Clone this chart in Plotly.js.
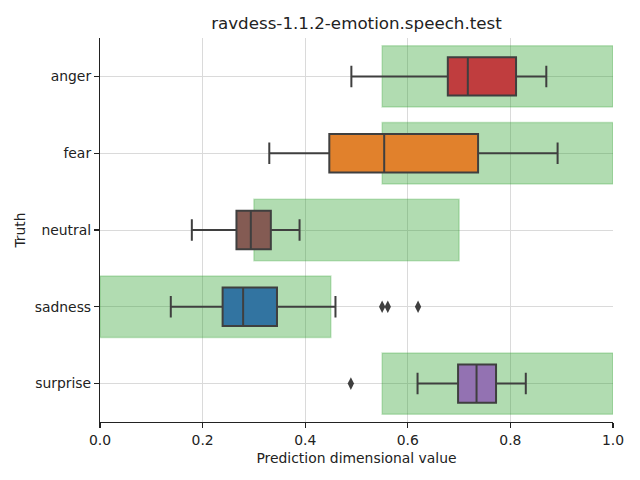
<!DOCTYPE html>
<html>
<head>
<meta charset="utf-8">
<script src="https://cdn.plot.ly/plotly-3.0.1.min.js"></script>
<style>html,body{margin:0;padding:0;background:#fff;}#chart{width:640px;height:480px;}</style>
</head>
<body>
<div id="chart"></div>
<script>
// Categories (top to bottom)
const categories = ["anger", "fear", "neutral", "sadness", "surprise"];
// Box statistics
const lowerWhisker = [0.490, 0.330, 0.179, 0.138, 0.619];
const q1Values     = [0.678, 0.447, 0.266, 0.239, 0.698];
const medianValues = [0.717, 0.554, 0.294, 0.279, 0.734];
const q3Values     = [0.811, 0.737, 0.333, 0.345, 0.772];
const upperWhisker = [0.870, 0.892, 0.389, 0.459, 0.830];
const boxColors    = ["#c03d3e", "#e1812c", "#845b53", "#3274a1", "#9372b2"];
// Outliers
const outlierCats  = ["sadness", "sadness", "sadness", "surprise"];
const outlierVals  = [0.550, 0.561, 0.620, 0.489];
// Expected ranges (green bands)
const rangeLow  = [0.55, 0.55, 0.30, 0.00, 0.55];
const rangeHigh = [1.00, 1.00, 0.70, 0.45, 1.00];
const xTicks = [0, 0.2, 0.4, 0.6, 0.8, 1.0];

const traces = [];
// green bands as horizontal bars
traces.push({
  type: "bar",
  orientation: "h",
  y: categories,
  base: rangeLow,
  x: rangeHigh.map((h, i) => h - rangeLow[i]),
  width: 0.8,
  marker: {color: "rgba(44,160,44,0.37)", line: {color: "rgba(44,160,44,0.25)", width: 1.5}},
  hoverinfo: "skip",
  showlegend: false
});
categories.forEach((c, i) => {
  traces.push({
    type: "box",
    orientation: "h",
    y: [c],
    q1: [q1Values[i]],
    median: [medianValues[i]],
    q3: [q3Values[i]],
    lowerfence: [lowerWhisker[i]],
    upperfence: [upperWhisker[i]],
    width: 0.5,
    whiskerwidth: 0.56,
    fillcolor: boxColors[i],
    line: {color: "#3f3f3f", width: 2},
    boxpoints: false,
    showlegend: false
  });
});
traces.push({
  type: "scatter",
  mode: "markers",
  y: outlierCats,
  x: outlierVals,
  marker: {symbol: "diamond-tall", size: 9, color: "#3f3f3f"},
  showlegend: false
});

const layout = {
  width: 640, height: 480,
  margin: {l: 100, r: 27, t: 38, b: 58},
  paper_bgcolor: "#fff", plot_bgcolor: "#fff",
  font: {family: "DejaVu Sans", color: "#222", size: 13.9},
  title: {text: "ravdess-1.1.2-emotion.speech.test", font: {size: 16.7, color: "#222"},
          x: 0.557, xanchor: "center", y: 0.952, yanchor: "middle"},
  barmode: "overlay",
  boxmode: "overlay",
  xaxis: {
    range: [0, 1], tickvals: xTicks, tickformat: ".1f",
    showgrid: true, gridcolor: "#dadada", gridwidth: 1,
    zeroline: false, showline: true, linecolor: "#222", linewidth: 1.1,
    ticks: "outside", ticklen: 5, tickcolor: "#222", tickwidth: 1.1,
    tickfont: {size: 13.9},
    title: {text: "Prediction dimensional value", font: {size: 13.9}, standoff: 6}
  },
  yaxis: {
    type: "category", categoryorder: "array", categoryarray: categories,
    range: [4.5, -0.5],
    showgrid: true, gridcolor: "#dadada", gridwidth: 1,
    zeroline: false, showline: true, linecolor: "#222", linewidth: 1.1,
    ticks: "outside", ticklen: 5, tickcolor: "#222", tickwidth: 1.1,
    tickfont: {size: 13.9},
    title: {text: "Truth", font: {size: 13.9}, standoff: 5}
  }
};

Plotly.newPlot("chart", traces, layout, {displayModeBar: false, staticPlot: true});
</script>
</body>
</html>
